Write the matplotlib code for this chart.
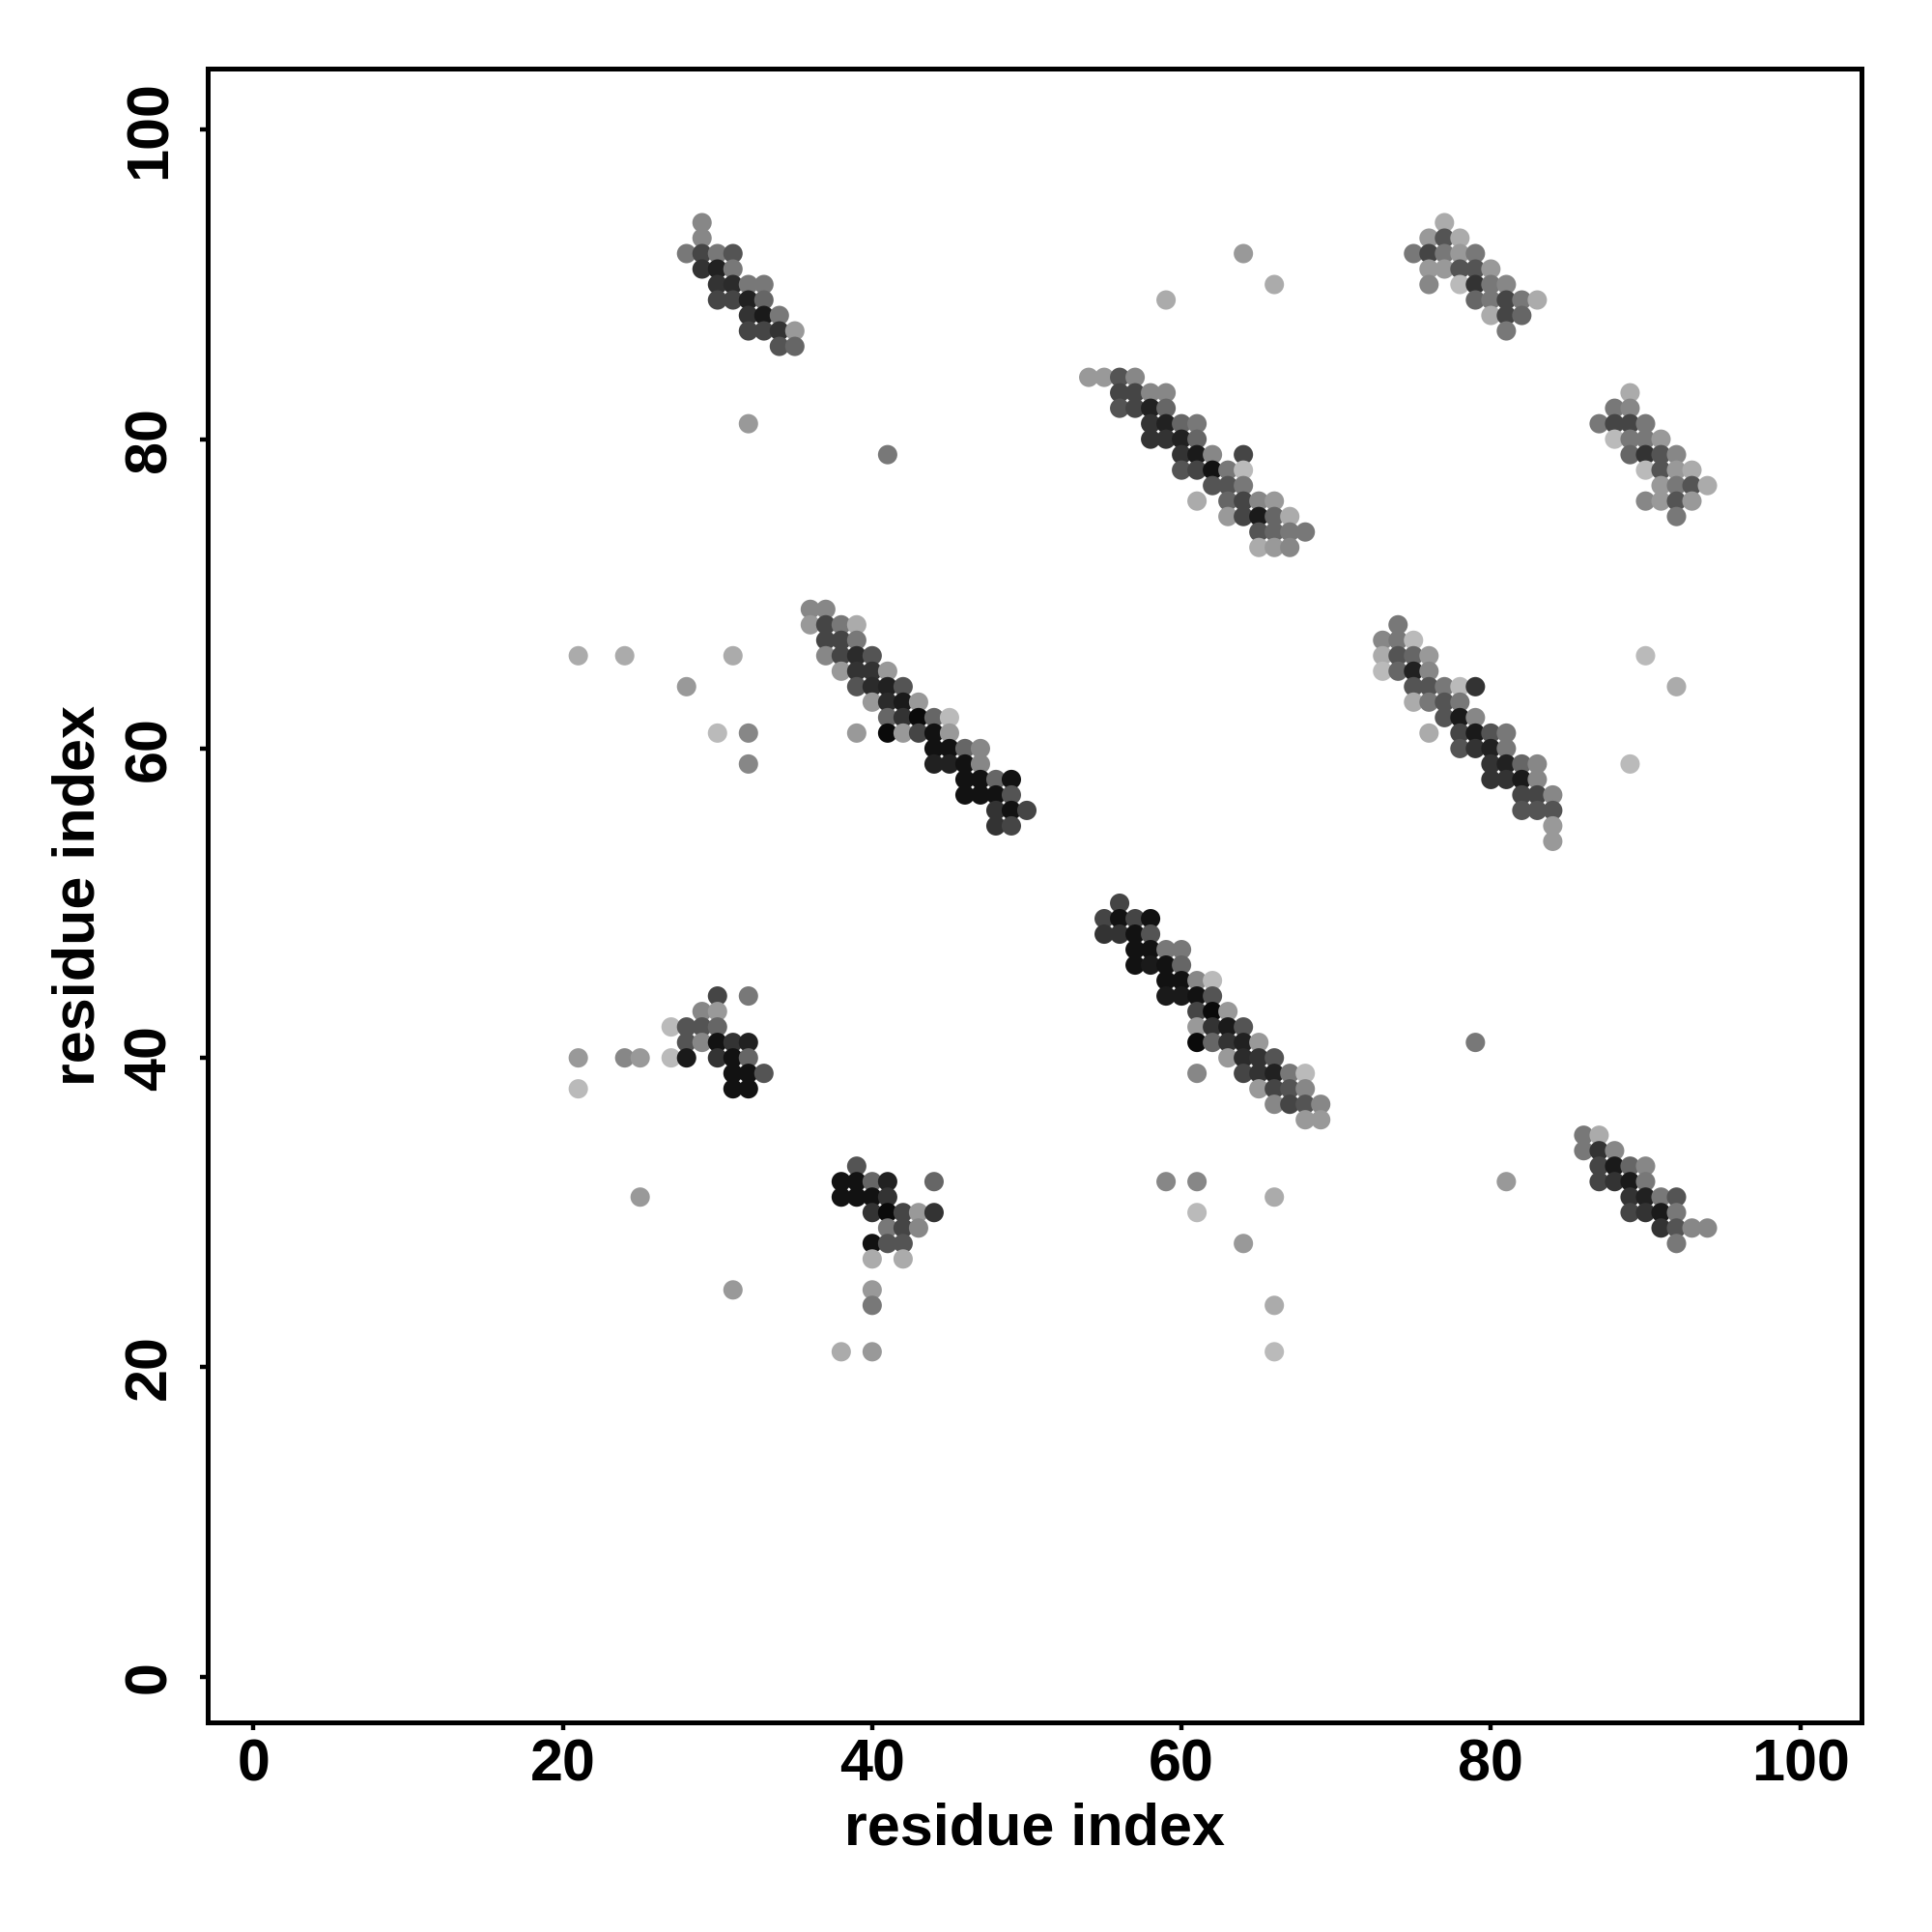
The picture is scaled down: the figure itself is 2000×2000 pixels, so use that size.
"""
Residue contact map: predicted contacts drawn as gray dots,
darker = stronger contact.
"""

import numpy as np
import matplotlib
matplotlib.use("Agg")
import matplotlib.pyplot as plt

# (i, j, gray level 0=black .. 1=white), one list per block
block_a = [
    (29, 94, .53), (29, 93, .53),
    (28, 92, .47), (29, 92, .27), (30, 92, .47), (31, 92, .33),
    (29, 91, .20), (30, 91, .13), (31, 91, .47),
    (30, 90, .20), (31, 90, .17), (32, 90, .47), (33, 90, .47),
    (30, 89, .27), (31, 89, .27), (32, 89, .13), (33, 89, .40),
    (32, 88, .20), (33, 88, .10), (34, 88, .47),
    (32, 87, .27), (33, 87, .27), (34, 87, .20), (35, 87, .60),
    (34, 86, .33), (35, 86, .40),
]

block_b = [
    (54, 84, .60), (55, 84, .60), (56, 84, .33), (57, 84, .53),
    (56, 83, .27), (57, 83, .27), (58, 83, .53), (59, 83, .53),
    (56, 82, .33), (57, 82, .27), (58, 82, .13), (59, 82, .40),
    (58, 81, .20), (59, 81, .13), (60, 81, .40), (61, 81, .47),
    (58, 80, .20), (59, 80, .20), (60, 80, .13), (61, 80, .40),
    (60, 79, .20), (61, 79, .10), (62, 79, .53), (64, 79, .27),
    (60, 78, .33), (61, 78, .27), (62, 78, .07), (63, 78, .47), (64, 78, .73),
    (62, 77, .33), (63, 77, .33), (64, 77, .47),
    (61, 76, .67), (63, 76, .40), (64, 76, .27), (65, 76, .53), (66, 76, .60),
    (63, 75, .60), (64, 75, .27), (65, 75, .10), (66, 75, .40), (67, 75, .67),
    (65, 74, .33), (66, 74, .40), (67, 74, .47), (68, 74, .47),
    (65, 73, .67), (66, 73, .60), (67, 73, .53),
]

block_c = [
    (77, 94, .67),
    (76, 93, .60), (77, 93, .33), (78, 93, .67),
    (75, 92, .47), (76, 92, .27), (77, 92, .47), (78, 92, .60), (79, 92, .47),
    (76, 91, .60), (77, 91, .60), (78, 91, .33), (79, 91, .33), (80, 91, .60),
    (76, 90, .53), (78, 90, .73), (79, 90, .20), (80, 90, .47), (81, 90, .53),
    (79, 89, .40), (80, 89, .47), (81, 89, .27), (82, 89, .47), (83, 89, .67),
    (80, 88, .67), (81, 88, .27), (82, 88, .40),
    (81, 87, .47),
]

block_d = [
    (89, 83, .67),
    (88, 82, .47), (89, 82, .53),
    (87, 81, .47), (88, 81, .27), (89, 81, .27), (90, 81, .47),
    (88, 80, .73), (89, 80, .47), (90, 80, .47), (91, 80, .60),
    (89, 79, .40), (90, 79, .20), (91, 79, .33), (92, 79, .53),
    (90, 78, .73), (91, 78, .33), (92, 78, .60), (93, 78, .67),
    (91, 77, .60), (92, 77, .47), (93, 77, .33), (94, 77, .67),
    (90, 76, .53), (91, 76, .60), (92, 76, .33), (93, 76, .60),
    (92, 75, .47),
]

block_e = [
    (36, 69, .53), (37, 69, .53),
    (36, 68, .60), (37, 68, .27), (38, 68, .47), (39, 68, .67),
    (37, 67, .27), (38, 67, .27), (39, 67, .47),
    (37, 66, .53), (38, 66, .27), (39, 66, .17), (40, 66, .33),
    (38, 65, .60), (39, 65, .20), (40, 65, .20), (41, 65, .60),
    (39, 64, .33), (40, 64, .17), (41, 64, .13), (42, 64, .33),
    (40, 63, .60), (41, 63, .17), (42, 63, .10), (43, 63, .60),
    (41, 62, .40), (42, 62, .20), (43, 62, .04), (44, 62, .40), (45, 62, .73),
    (39, 61, .60), (41, 61, .04), (42, 61, .60), (43, 61, .27), (44, 61, .07), (45, 61, .60),
    (44, 60, .07), (45, 60, .07), (46, 60, .40), (47, 60, .53),
    (44, 59, .13), (45, 59, .13), (46, 59, .07), (47, 59, .53),
    (46, 58, .07), (47, 58, .07), (48, 58, .40), (49, 58, .07),
    (46, 57, .07), (47, 57, .07), (48, 57, .07), (49, 57, .33),
    (48, 56, .20), (49, 56, .07), (50, 56, .27),
    (48, 55, .20), (49, 55, .27),
]

block_f = [
    (74, 68, .47),
    (73, 67, .53), (74, 67, .47), (75, 67, .73),
    (73, 66, .67), (74, 66, .33), (75, 66, .40), (76, 66, .60),
    (73, 65, .73), (74, 65, .40), (75, 65, .13), (76, 65, .53),
    (75, 64, .33), (76, 64, .33), (77, 64, .47), (78, 64, .73), (79, 64, .20),
    (75, 63, .67), (76, 63, .47), (77, 63, .33), (78, 63, .47),
    (77, 62, .33), (78, 62, .10), (79, 62, .53),
    (76, 61, .67), (78, 61, .27), (79, 61, .10), (80, 61, .33), (81, 61, .47),
    (78, 60, .33), (79, 60, .20), (80, 60, .13), (81, 60, .47),
    (80, 59, .20), (81, 59, .13), (82, 59, .40), (83, 59, .53),
    (80, 58, .20), (81, 58, .20), (82, 58, .10), (83, 58, .53),
    (82, 57, .27), (83, 57, .27), (84, 57, .53),
    (82, 56, .33), (83, 56, .33), (84, 56, .33),
    (84, 55, .60), (84, 54, .60),
]

block_g = [
    (56, 50, .27),
    (55, 49, .27), (56, 49, .07), (57, 49, .27), (58, 49, .07),
    (55, 48, .20), (56, 48, .20), (57, 48, .07), (58, 48, .33),
    (57, 47, .07), (58, 47, .07), (59, 47, .47), (60, 47, .47),
    (57, 46, .07), (58, 46, .10), (59, 46, .07), (60, 46, .40),
    (59, 45, .07), (60, 45, .07), (61, 45, .53), (62, 45, .73),
    (59, 44, .10), (60, 44, .10), (61, 44, .07), (62, 44, .33),
    (61, 43, .27), (62, 43, .04), (63, 43, .60),
    (61, 42, .60), (62, 42, .20), (63, 42, .10), (64, 42, .33),
    (61, 41, .04), (62, 41, .40), (63, 41, .20), (64, 41, .13), (65, 41, .60),
    (63, 40, .60), (64, 40, .17), (65, 40, .20), (66, 40, .33),
    (61, 39, .53), (64, 39, .27), (65, 39, .20), (66, 39, .13), (67, 39, .47), (68, 39, .73),
    (65, 38, .60), (66, 38, .27), (67, 38, .33), (68, 38, .53),
    (66, 37, .53), (67, 37, .27), (68, 37, .33), (69, 37, .53),
    (68, 36, .60), (69, 36, .60),
]

block_h = [
    (30, 44, .27), (32, 44, .47),
    (29, 43, .53), (30, 43, .60),
    (27, 42, .73), (28, 42, .33), (29, 42, .33), (30, 42, .40),
    (28, 41, .33), (29, 41, .53), (30, 41, .07), (31, 41, .20), (32, 41, .13),
    (21, 40, .60), (24, 40, .53), (25, 40, .60), (27, 40, .73), (28, 40, .10),
    (30, 40, .20), (31, 40, .07), (32, 40, .40),
    (31, 39, .07), (32, 39, .07), (33, 39, .33),
    (21, 38, .73), (31, 38, .07), (32, 38, .07),
]

block_i = [
    (39, 33, .33),
    (38, 32, .07), (39, 32, .07), (40, 32, .40), (41, 32, .13), (44, 32, .40),
    (38, 31, .07), (39, 31, .07), (40, 31, .07), (41, 31, .20),
    (40, 30, .20), (41, 30, .04), (42, 30, .27), (43, 30, .60), (44, 30, .20),
    (41, 29, .47), (42, 29, .27), (43, 29, .53),
    (40, 28, .07), (41, 28, .33), (42, 28, .33),
    (40, 27, .67), (42, 27, .67),
    (40, 25, .60), (40, 24, .47),
    (38, 21, .67), (40, 21, .60),
]

block_j = [
    (86, 35, .47), (87, 35, .67),
    (86, 34, .47), (87, 34, .20), (88, 34, .53),
    (87, 33, .27), (88, 33, .10), (89, 33, .40), (90, 33, .53),
    (87, 32, .27), (88, 32, .20), (89, 32, .10), (90, 32, .47),
    (89, 31, .20), (90, 31, .13), (91, 31, .47), (92, 31, .33),
    (89, 30, .27), (90, 30, .20), (91, 30, .10), (92, 30, .47),
    (91, 29, .20), (92, 29, .33), (93, 29, .53), (94, 29, .53),
    (92, 28, .47),
]

# isolated contacts
singles = [
    (64, 92, .60), (66, 90, .67), (59, 89, .67),
    (32, 81, .60), (41, 79, .47),
    (21, 66, .67), (24, 66, .67), (31, 66, .67), (28, 64, .60),
    (30, 61, .73), (32, 61, .53), (32, 59, .53),
    (90, 66, .73), (92, 64, .67), (89, 59, .73),
    (79, 41, .47), (81, 32, .60),
    (25, 31, .60), (31, 25, .60),
    (59, 32, .53), (61, 32, .53), (66, 31, .67), (61, 30, .73),
    (64, 28, .60), (66, 24, .67), (66, 21, .73),
]

contacts = np.array(block_a + block_b + block_c + block_d + block_e +
                    block_f + block_g + block_h + block_i + block_j + singles)
res_i, res_j, gray = contacts[:, 0], contacts[:, 1], contacts[:, 2]

plt.rcParams['font.family'] = ['Liberation Sans', 'DejaVu Sans']
plt.rcParams['font.weight'] = 'bold'

fig = plt.figure(figsize=(10, 10), dpi=200)
ax = fig.add_axes([0.1075, 0.1085, 0.856, 0.856])

colors = [(g, g, g) for g in gray]
ax.scatter(res_i, res_j, s=52, c=colors, edgecolors='none', zorder=3)

ax.set_xlim(-2.96, 103.96)
ax.set_ylim(-2.96, 103.96)
ax.set_xticks(np.arange(0, 101, 20))
ax.set_yticks(np.arange(0, 101, 20))
ax.tick_params(direction='out', length=3, width=1.6, labelsize=22)
ax.tick_params(axis='x', pad=3)
ax.tick_params(axis='y', pad=8)
for lab in ax.get_yticklabels():
    lab.set_rotation(90)
    lab.set_va('center')
for sp in ax.spines.values():
    sp.set_linewidth(1.8)

ax.set_xlabel("residue index", fontsize=22, fontweight='bold', labelpad=3)
ax.set_ylabel("residue index", fontsize=22, fontweight='bold', labelpad=6)

fig.savefig("out.png", dpi=200)
